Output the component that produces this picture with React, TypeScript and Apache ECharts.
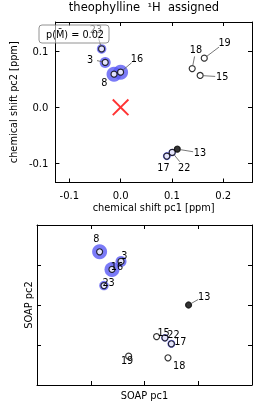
import React, { useEffect, useRef } from "react";
import * as echarts from "echarts";

// ---- data ----
const atomLabels = ["3", "8", "13", "15", "16", "17", "18", "19", "22", "23"];
const shiftPc1 = [-0.030, -0.0128, 0.1105, 0.155, 0.0, 0.09, 0.1395, 0.163, 0.1005, -0.037];
const shiftPc2 = [0.080, 0.059, -0.0746, 0.0567, 0.0626, -0.087, 0.069, 0.0875, -0.0804, 0.104];
const soapPc1 = [1.563, 1.165, 2.82, 2.225, 1.395, 2.5, 2.437, 1.705, 2.38, 1.246];
const soapPc2 = [3.09, 3.33, 2.0, 1.21, 2.89, 1.03, 0.68, 0.72, 1.18, 2.485];
const assignWeight = [0.6, 1.0, 0, 0, 1.0, 0.3, 0, 0, 0.25, 0.45];
const filledAtom = "13";
const origin = [0, 0];
const shiftTicks = [-0.1, 0.0, 0.1, 0.2];
const shiftYTicks = [-0.1, 0.0, 0.1];
const pValueText = "p(M\u0304) = 0.02";
const titleText = "theophylline  \u00b9H  assigned";

// ---- layout (pixel label offsets) ----
const topOffsets = [
  [-15, -3.3], [-9.7, 8.7], [22.7, 3.7], [22, 1.4], [16.3, -14],
  [-3.3, 11.3], [3.7, -19], [20.3, -15.3], [12, 14.7], [-5.6, -19.7],
];
const bottomOffsets = [
  [3.3, -5.7], [-3.3, -13], [15.7, -9], [7, -3.7], [5, -3.3],
  [9, -2.7], [11.3, 7.4], [-1.6, 4], [8.6, -3.3], [4.6, -3],
];

const FONT = "DejaVu Sans";
const xPath =
  "path://M0,8L8,0L50,42L92,0L100,8L58,50L100,92L92,100L50,58L8,100L0,92L42,50Z";

function makeLabelRender(offsets: number[][]) {
  return (params: any, api: any) => {
    const i = params.dataIndex;
    const p = api.coord([api.value(0), api.value(1)]);
    const [dx, dy] = offsets[i];
    const d = Math.hypot(dx, dy);
    const children: any[] = [];
    if (d > 14) {
      const ux = dx / d;
      const uy = dy / d;
      children.push({
        type: "line",
        shape: {
          x1: p[0] + ux * 3,
          y1: p[1] + uy * 3,
          x2: p[0] + ux * (d - 7),
          y2: p[1] + uy * (d - 7),
        },
        style: { stroke: "#555", lineWidth: 0.8 },
      });
    }
    children.push({
      type: "text",
      style: {
        text: atomLabels[i],
        x: p[0] + dx,
        y: p[1] + dy,
        align: "center",
        verticalAlign: "middle",
        fontSize: 9.7,
        fontFamily: FONT,
        fill: "#000",
      },
    });
    return { type: "group", children };
  };
}

function axisBase(gridIndex: number, position: string, min: number, max: number, ticks: number[] | null, showLabels: boolean) {
  const tick: any = { show: true, inside: true, length: 4, lineStyle: { color: "#000", width: 1 } };
  const label: any = {
    show: showLabels,
    color: "#000",
    fontSize: 10,
    fontFamily: FONT,
    formatter: (v: number) => v.toFixed(1),
  };
  const ax: any = {
    type: "value",
    gridIndex,
    position,
    min,
    max,
    axisLine: { show: true, onZero: false, lineStyle: { color: "#000", width: 1 } },
    axisTick: tick,
    axisLabel: label,
    splitLine: { show: false },
  };
  if (ticks) {
    tick.customValues = ticks;
    label.customValues = ticks;
  } else {
    ax.interval = 1;
  }
  return ax;
}

export default function App() {
  const ref = useRef<HTMLDivElement>(null);
  useEffect(() => {
    if (!ref.current) return;
    const chart = echarts.init(ref.current, undefined, { renderer: "svg" });

    const topPts = shiftPc1.map((x, i) => [x, shiftPc2[i]]);
    const botPts = soapPc1.map((x, i) => [x, soapPc2[i]]);
    const haloSize = (v: any, p: any) => {
      const w = assignWeight[p.dataIndex];
      return w > 0 ? 5 + w * 10 : 0;
    };
    const pointStyle = (i: number) =>
      atomLabels[i] === filledAtom
        ? { color: "#000", borderColor: "#000", borderWidth: 1.2 }
        : { color: "#fff", borderColor: "#000", borderWidth: 1.2 };

    const x0 = axisBase(0, "bottom", -0.127, 0.256, shiftTicks, true);
    x0.axisLabel.margin = 8;
    x0.name = "chemical shift pc1 [ppm]";
    x0.nameLocation = "middle";
    x0.nameGap = 20;
    x0.nameTextStyle = { fontSize: 9.8, color: "#000", fontFamily: FONT };
    const x0t = axisBase(0, "top", -0.127, 0.256, shiftTicks, false);
    const y0 = axisBase(0, "left", -0.134, 0.152, shiftYTicks, true);
    y0.axisLabel.margin = 7;
    y0.name = "chemical shift pc2 [ppm]";
    y0.nameLocation = "middle";
    y0.nameGap = 28;
    y0.nameTextStyle = { fontSize: 9.8, color: "#000", fontFamily: FONT };
    const y0r = axisBase(0, "right", -0.134, 0.152, shiftYTicks, false);

    const x1 = axisBase(1, "bottom", 0, 4, null, false);
    x1.name = "SOAP pc1";
    x1.nameLocation = "middle";
    x1.nameGap = 5;
    x1.nameTextStyle = { fontSize: 9.8, color: "#000", fontFamily: FONT };
    const x1t = axisBase(1, "top", 0, 4, null, false);
    const y1 = axisBase(1, "left", 0, 4, null, false);
    y1.name = "SOAP pc2";
    y1.nameLocation = "middle";
    y1.nameGap = 4;
    y1.nameTextStyle = { fontSize: 9.8, color: "#000", fontFamily: FONT };
    const y1r = axisBase(1, "right", 0, 4, null, false);

    const halo = (xi: number, yi: number, pts: number[][]) => ({
      type: "scatter",
      xAxisIndex: xi,
      yAxisIndex: yi,
      data: pts,
      symbol: "circle",
      symbolSize: haloSize,
      itemStyle: { color: "#5a5af5", opacity: 0.8 },
      silent: true,
      z: 2,
    });
    const points = (xi: number, yi: number, pts: number[][]) => ({
      type: "scatter",
      xAxisIndex: xi,
      yAxisIndex: yi,
      data: pts.map((p, i) => ({ value: p, itemStyle: pointStyle(i) })),
      symbol: "circle",
      symbolSize: 6,
      silent: true,
      z: 3,
    });
    const labels = (xi: number, yi: number, pts: number[][], offs: number[][]) => ({
      type: "custom",
      xAxisIndex: xi,
      yAxisIndex: yi,
      data: pts,
      renderItem: makeLabelRender(offs),
      silent: true,
      clip: false,
      z: 4,
    });

    chart.setOption({
      animation: false,
      textStyle: { fontFamily: FONT },
      grid: [
        { left: 37, top: 22, width: 215, height: 160.5 },
        { left: 37, top: 225, width: 215, height: 161.7 },
      ],
      xAxis: [x0, x0t, x1, x1t],
      yAxis: [y0, y0r, y1, y1r],
      series: [
        halo(0, 0, topPts),
        points(0, 0, topPts),
        labels(0, 0, topPts, topOffsets),
        {
          type: "scatter",
          xAxisIndex: 0,
          yAxisIndex: 0,
          data: [origin],
          symbol: xPath,
          symbolSize: 17,
          itemStyle: { color: "#ff0000" },
          silent: true,
          z: 5,
        },
        halo(2, 2, botPts),
        points(2, 2, botPts),
        labels(2, 2, botPts, bottomOffsets),
      ],
      graphic: [
        {
          type: "text",
          x: 144,
          y: 7,
          z: 100,
          style: {
            text: titleText,
            align: "center",
            verticalAlign: "middle",
            fontSize: 11.5,
            fontFamily: FONT,
            fill: "#000",
          },
        },
        {
          type: "group",
          z: 100,
          children: [
            {
              type: "rect",
              shape: { x: 39, y: 25, width: 70, height: 18, r: 3 },
              style: { fill: "rgba(255,255,255,0.55)", stroke: "#777", lineWidth: 0.8 },
              z: 100,
            },
            {
              type: "text",
              x: 75,
              y: 34,
              z: 101,
              style: {
                text: pValueText,
                align: "center",
                verticalAlign: "middle",
                fontSize: 9.7,
                fontFamily: FONT,
                fill: "#000",
              },
            },
          ],
        },
      ],
    });
    return () => chart.dispose();
  }, []);
  return (
    <div
      ref={ref}
      style={{ position: "fixed", left: 0, top: 0, width: 262, height: 401 }}
    />
  );
}
